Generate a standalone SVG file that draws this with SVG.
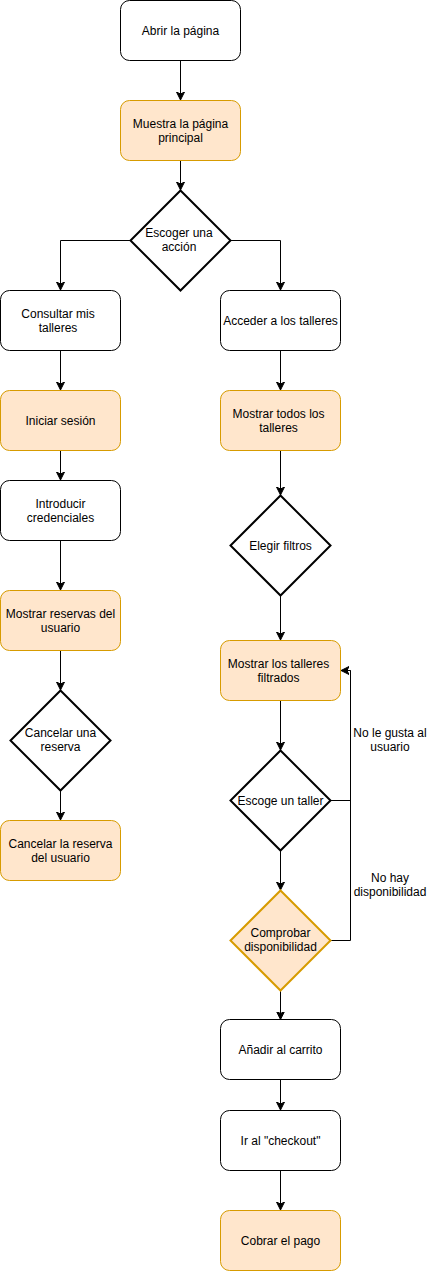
<svg xmlns="http://www.w3.org/2000/svg" width="431" height="1271" viewBox="0 0 431 1271">
<style>
.b{fill:#ffffff;stroke:#000000;stroke-width:1}
.o{fill:#ffe6cc;stroke:#d79b00;stroke-width:1}
.d{stroke-width:2}
.t{font-family:"Liberation Sans",Arial,Helvetica,sans-serif;font-size:12px;fill:#000000;text-anchor:middle}
.e{fill:none;stroke:#000000;stroke-width:1}
</style>
<defs>
<marker id="a" markerUnits="userSpaceOnUse" viewBox="-8 -4.5 8 9" refX="0" refY="0" markerWidth="8" markerHeight="9" orient="auto">
<path d="M-8,-4 L0,0 L-8,4 L-6,0 Z" fill="#000000" stroke="#000000" stroke-width="1"/>
</marker>
</defs>
<rect width="431" height="1271" fill="#ffffff"/>
<g id="edges">
<path class="e" d="M180.5,60.5 V100" marker-end="url(#a)"/>
<path class="e" d="M180.5,160.5 V190" marker-end="url(#a)"/>
<path class="e" d="M130.5,240.5 H60.5 V290" marker-end="url(#a)"/>
<path class="e" d="M230.5,240.5 H280.5 V290" marker-end="url(#a)"/>
<path class="e" d="M60.5,350.5 V390" marker-end="url(#a)"/>
<path class="e" d="M60.5,450.5 V480" marker-end="url(#a)"/>
<path class="e" d="M60.5,540.5 V590" marker-end="url(#a)"/>
<path class="e" d="M60.5,650.5 V690" marker-end="url(#a)"/>
<path class="e" d="M60.5,790.5 V820" marker-end="url(#a)"/>
<path class="e" d="M280.5,350.5 V390" marker-end="url(#a)"/>
<path class="e" d="M280.5,450.5 V495" marker-end="url(#a)"/>
<path class="e" d="M280.5,595.5 V640" marker-end="url(#a)"/>
<path class="e" d="M280.5,700.5 V750" marker-end="url(#a)"/>
<path class="e" d="M280.5,850.5 V890" marker-end="url(#a)"/>
<path class="e" d="M280.5,990.5 V1019.5" marker-end="url(#a)"/>
<path class="e" d="M280.5,1079.5 V1110" marker-end="url(#a)"/>
<path class="e" d="M280.5,1170.5 V1210" marker-end="url(#a)"/>
<path class="e" d="M330.5,800.5 H350.5 V670.5 H341" marker-end="url(#a)"/>
<path class="e" d="M330.5,940.5 H350.5 V670.5"/>
<text class="t" x="390" y="737">No le gusta al</text>
<text class="t" x="390" y="751">usuario</text>
<text class="t" x="390" y="882">No hay</text>
<text class="t" x="390" y="896">disponibilidad</text>
</g>
<g id="n1"><rect class="b" x="120.5" y="0.5" width="120" height="60" rx="9"/><text class="t" x="180.5" y="34.5">Abrir la página</text></g>
<g id="n2"><rect class="o" x="120.5" y="100.5" width="120" height="60" rx="9"/><text class="t" x="180.5" y="127.5">Muestra la página</text><text class="t" x="180.5" y="141.5">principal</text></g>
<g id="n3"><path class="b d" d="M180.5,190.5 L230.5,240.5 L180.5,290.5 L130.5,240.5 Z"/><text class="t" x="179" y="237">Escoger una</text><text class="t" x="179" y="251">acción</text></g>
<g id="n4"><rect class="b" x="0.5" y="290.5" width="120" height="60" rx="9"/><text class="t" x="58" y="317.5">Consultar mis</text><text class="t" x="58" y="331.5">talleres</text></g>
<g id="n5"><rect class="b" x="220.5" y="290.5" width="120" height="60" rx="9"/><text class="t" x="280.5" y="324.5">Acceder a los talleres</text></g>
<g id="n6"><rect class="o" x="0.5" y="390.5" width="120" height="60" rx="9"/><text class="t" x="60.5" y="424.5">Iniciar sesión</text></g>
<g id="n7"><rect class="b" x="0.5" y="480.5" width="120" height="60" rx="9"/><text class="t" x="60.5" y="507.5">Introducir</text><text class="t" x="60.5" y="521.5">credenciales</text></g>
<g id="n8"><rect class="o" x="0.5" y="590.5" width="120" height="60" rx="9"/><text class="t" x="60.5" y="617.5">Mostrar reservas del</text><text class="t" x="60.5" y="631.5">usuario</text></g>
<g id="n9"><path class="b d" d="M60.5,690.5 L110.5,740.5 L60.5,790.5 L10.5,740.5 Z"/><text class="t" x="60.5" y="737">Cancelar una</text><text class="t" x="60.5" y="751">reserva</text></g>
<g id="n10"><rect class="o" x="0.5" y="820.5" width="120" height="60" rx="9"/><text class="t" x="60.5" y="847.5">Cancelar la reserva</text><text class="t" x="60.5" y="861.5">del usuario</text></g>
<g id="n11"><rect class="o" x="220.5" y="390.5" width="120" height="60" rx="9"/><text class="t" x="278.5" y="417.5">Mostrar todos los</text><text class="t" x="278.5" y="431.5">talleres</text></g>
<g id="n12"><path class="b d" d="M280.5,495.5 L330.5,545.5 L280.5,595.5 L230.5,545.5 Z"/><text class="t" x="280.5" y="549.5">Elegir filtros</text></g>
<g id="n13"><rect class="o" x="220.5" y="640.5" width="120" height="60" rx="9"/><text class="t" x="278.5" y="667.5">Mostrar los talleres</text><text class="t" x="278.5" y="681.5">filtrados</text></g>
<g id="n14"><path class="b d" d="M280.5,750.5 L330.5,800.5 L280.5,850.5 L230.5,800.5 Z"/><text class="t" x="280.5" y="804.5">Escoge un taller</text></g>
<g id="n15"><path class="o d" d="M280.5,890.5 L330.5,940.5 L280.5,990.5 L230.5,940.5 Z"/><text class="t" x="280.5" y="937">Comprobar</text><text class="t" x="280.5" y="951">disponibilidad</text></g>
<g id="n16"><rect class="b" x="220.5" y="1019.5" width="120" height="60" rx="9"/><text class="t" x="280.5" y="1053.5">Añadir al carrito</text></g>
<g id="n17"><rect class="b" x="220.5" y="1110.5" width="120" height="60" rx="9"/><text class="t" x="280.5" y="1144.5">Ir al "checkout"</text></g>
<g id="n18"><rect class="o" x="220.5" y="1210.5" width="120" height="60" rx="9"/><text class="t" x="280.5" y="1244.5">Cobrar el pago</text></g>
</svg>
